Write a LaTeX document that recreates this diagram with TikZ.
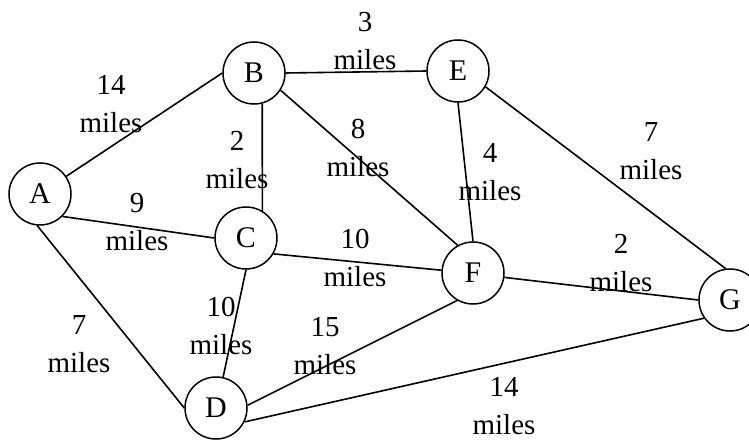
\documentclass[tikz,border=0pt]{standalone}
\usepackage{fontspec}
\setmainfont{Liberation Serif}
\usepackage{tikz}

\begin{document}
\begin{tikzpicture}[x=1pt, y=-1pt,
    town/.style={draw, circle, line width=1.5pt, minimum size=62pt, inner sep=0pt,
                 font=\fontsize{30}{32}\selectfont},
    dist/.style={align=center, inner sep=0pt, font=\fontsize{29}{38}\selectfont},
    road/.style={line width=1.6pt}]
    \useasboundingbox (0,0) rectangle (749,441);

    % towns
    \node[town] (A) at (40,194)  {A};
    \node[town] (B) at (254,73)  {B};
    \node[town] (C) at (246,238) {C};
    \node[town] (D) at (216,408) {D};
    \node[town] (E) at (458,71)  {E};
    \node[town] (F) at (473,273) {F};
    \node[town] (G) at (730,300) {G};

    % roads
    \draw[road] (A.34) -- (B.180);
    \draw[road] (B.0) -- (E.180);
    \draw[road] (B.-75) -- (C.59);
    \draw[road] (B.-33) -- (F.119);
    \draw[road] (E.-90) -- (F.90);
    \draw[road] (E.-30) -- (G.98);
    \draw[road] (A.-45) -- (C.180);
    \draw[road] (C.-30) -- (F.175);
    \draw[road] (F.-8) -- (G.180);
    \draw[road] (C.-90) -- (D.77);
    \draw[road] (A.-95) -- (D.180);
    \draw[road] (D.5) -- (F.240);
    \draw[road] (D.-26) -- (G.215);

    % distances
    \node[dist] (ab) at (111,104) {14\\miles};
    \node[dist] (be) at (365,41)  {3\\miles};
    \node[dist] (bc) at (237,160) {2\\miles};
    \node[dist] (bf) at (358,148) {8\\miles};
    \node[dist] (ef) at (490,172) {4\\miles};
    \node[dist] (eg) at (651,151) {7\\miles};
    \node[dist] (ac) at (137,222) {9\\miles};
    \node[dist] (cf) at (355,258) {10\\miles};
    \node[dist] (fg) at (621,263) {2\\miles};
    \node[dist] (cd) at (221,326) {10\\miles};
    \node[dist] (df) at (325,346) {15\\miles};
    \node[dist] (ad) at (79,344)  {7\\miles};
    \node[dist] (dg) at (504,406) {14\\miles};
\end{tikzpicture}
\end{document}
